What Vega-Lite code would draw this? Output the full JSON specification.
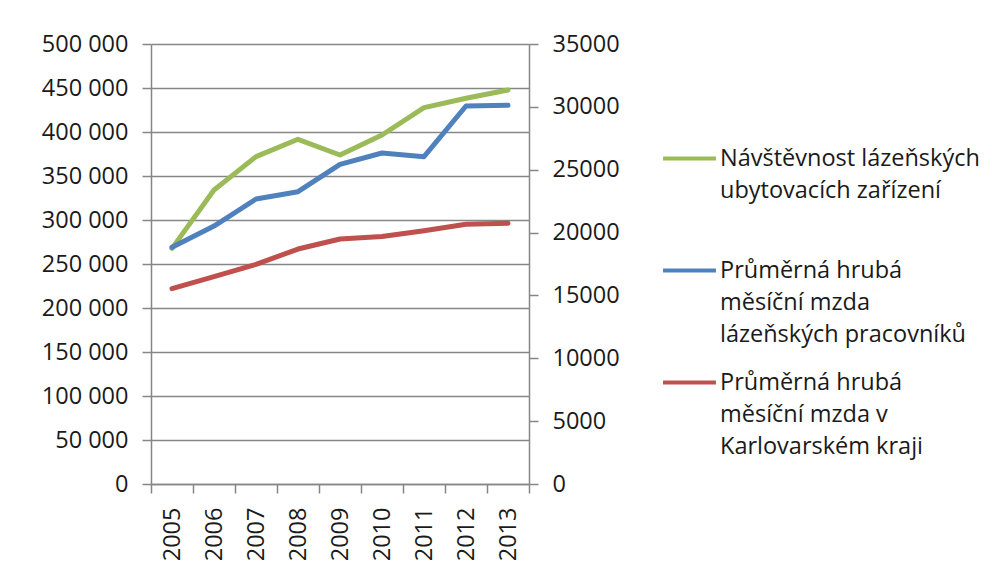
{
  "$schema": "https://vega.github.io/schema/vega-lite/v6.json",
  "autosize": {"type": "none"},
  "width": 378,
  "height": 440,
  "padding": {"left": 151, "top": 44, "right": 463, "bottom": 99},
  "background": "white",
  "config": {
    "view": {"stroke": null},
    "font": "Open Sans",
    "locale": {"number": {"decimal": ",", "thousands": " ", "grouping": [3], "currency": ["", " Kč"]}},
    "axis": {
      "labelFont": "Open Sans",
      "labelFontSize": 23.5,
      "labelColor": "#1a1a1a",
      "domainColor": "#868686",
      "tickColor": "#868686",
      "gridColor": "#868686",
      "domainWidth": 1.5,
      "tickWidth": 1.5,
      "gridWidth": 1.3,
      "tickSize": 9,
      "labelPadding": 14,
      "title": null
    },
    "style": {"guide-label": {"lineHeight": 32}},
    "legend": {
      "labelFont": "Open Sans",
      "labelFontSize": 23.5,
      "labelColor": "#1a1a1a",
      "labelLimit": 0
    }
  },
  "data": {
    "values": [
      {"year": "2005", "series": "Návštěvnost lázeňských|ubytovacích zařízení| ", "value": 267800},
      {"year": "2006", "series": "Návštěvnost lázeňských|ubytovacích zařízení| ", "value": 334100},
      {"year": "2007", "series": "Návštěvnost lázeňských|ubytovacích zařízení| ", "value": 372000},
      {"year": "2008", "series": "Návštěvnost lázeňských|ubytovacích zařízení| ", "value": 391700},
      {"year": "2009", "series": "Návštěvnost lázeňských|ubytovacích zařízení| ", "value": 373900},
      {"year": "2010", "series": "Návštěvnost lázeňských|ubytovacích zařízení| ", "value": 396600},
      {"year": "2011", "series": "Návštěvnost lázeňských|ubytovacích zařízení| ", "value": 427700},
      {"year": "2012", "series": "Návštěvnost lázeňských|ubytovacích zařízení| ", "value": 438300},
      {"year": "2013", "series": "Návštěvnost lázeňských|ubytovacích zařízení| ", "value": 447700},
      {"year": "2005", "series": "Průměrná hrubá|měsíční mzda|lázeňských pracovníků", "value": 18830},
      {"year": "2006", "series": "Průměrná hrubá|měsíční mzda|lázeňských pracovníků", "value": 20520},
      {"year": "2007", "series": "Průměrná hrubá|měsíční mzda|lázeňských pracovníků", "value": 22670},
      {"year": "2008", "series": "Průměrná hrubá|měsíční mzda|lázeňských pracovníků", "value": 23250},
      {"year": "2009", "series": "Průměrná hrubá|měsíční mzda|lázeňských pracovníků", "value": 25430},
      {"year": "2010", "series": "Průměrná hrubá|měsíční mzda|lázeňských pracovníků", "value": 26330},
      {"year": "2011", "series": "Průměrná hrubá|měsíční mzda|lázeňských pracovníků", "value": 26040},
      {"year": "2012", "series": "Průměrná hrubá|měsíční mzda|lázeňských pracovníků", "value": 30070},
      {"year": "2013", "series": "Průměrná hrubá|měsíční mzda|lázeňských pracovníků", "value": 30120},
      {"year": "2005", "series": "Průměrná hrubá|měsíční mzda v|Karlovarském kraji", "value": 15540},
      {"year": "2006", "series": "Průměrná hrubá|měsíční mzda v|Karlovarském kraji", "value": 16490},
      {"year": "2007", "series": "Průměrná hrubá|měsíční mzda v|Karlovarském kraji", "value": 17470},
      {"year": "2008", "series": "Průměrná hrubá|měsíční mzda v|Karlovarském kraji", "value": 18690},
      {"year": "2009", "series": "Průměrná hrubá|měsíční mzda v|Karlovarském kraji", "value": 19490},
      {"year": "2010", "series": "Průměrná hrubá|měsíční mzda v|Karlovarském kraji", "value": 19680},
      {"year": "2011", "series": "Průměrná hrubá|měsíční mzda v|Karlovarském kraji", "value": 20150},
      {"year": "2012", "series": "Průměrná hrubá|měsíční mzda v|Karlovarském kraji", "value": 20660},
      {"year": "2013", "series": "Průměrná hrubá|měsíční mzda v|Karlovarském kraji", "value": 20740}
    ]
  },
  "encoding": {
    "x": {
      "field": "year",
      "type": "ordinal",
      "scale": {"type": "band", "paddingInner": 0, "paddingOuter": 0},
      "axis": {"labelAngle": 270, "tickBand": "extent", "grid": false, "domain": true}
    },
    "color": {
      "field": "series",
      "type": "nominal",
      "scale": {
        "domain": ["Návštěvnost lázeňských|ubytovacích zařízení| ", "Průměrná hrubá|měsíční mzda|lázeňských pracovníků", "Průměrná hrubá|měsíční mzda v|Karlovarském kraji"],
        "range": ["#9BBB59", "#4F81BD", "#C0504D"]
      },
      "legend": {
        "title": null,
        "orient": "none",
        "legendX": 510,
        "legendY": 86,
        "symbolType": "stroke",
        "symbolSize": 2800,
        "symbolStrokeWidth": 4,
        "labelOffset": 2,
        "rowPadding": 8,
        "labelBaseline": "middle",
        "labelExpr": "split(datum.label, '|')"
      }
    }
  },
  "layer": [
    {
      "transform": [{"filter": "datum.series === 'Návštěvnost lázeňských|ubytovacích zařízení| '"}],
      "mark": {"type": "line", "strokeWidth": 5, "strokeCap": "round", "strokeJoin": "round"},
      "encoding": {
        "y": {
          "field": "value",
          "type": "quantitative",
          "scale": {"domain": [0, 500000], "nice": false},
          "axis": {"orient": "left", "values": [0, 50000, 100000, 150000, 200000, 250000, 300000, 350000, 400000, 450000, 500000], "format": ",d", "grid": true}
        }
      }
    },
    {
      "transform": [{"filter": "datum.series !== 'Návštěvnost lázeňských|ubytovacích zařízení| '"}],
      "mark": {"type": "line", "strokeWidth": 5, "strokeCap": "round", "strokeJoin": "round"},
      "encoding": {
        "y": {
          "field": "value",
          "type": "quantitative",
          "scale": {"domain": [0, 35000], "nice": false},
          "axis": {"orient": "right", "values": [0, 5000, 10000, 15000, 20000, 25000, 30000, 35000], "format": "d", "grid": false}
        }
      }
    }
  ],
  "resolve": {"scale": {"y": "independent"}, "axis": {"y": "independent"}}
}
